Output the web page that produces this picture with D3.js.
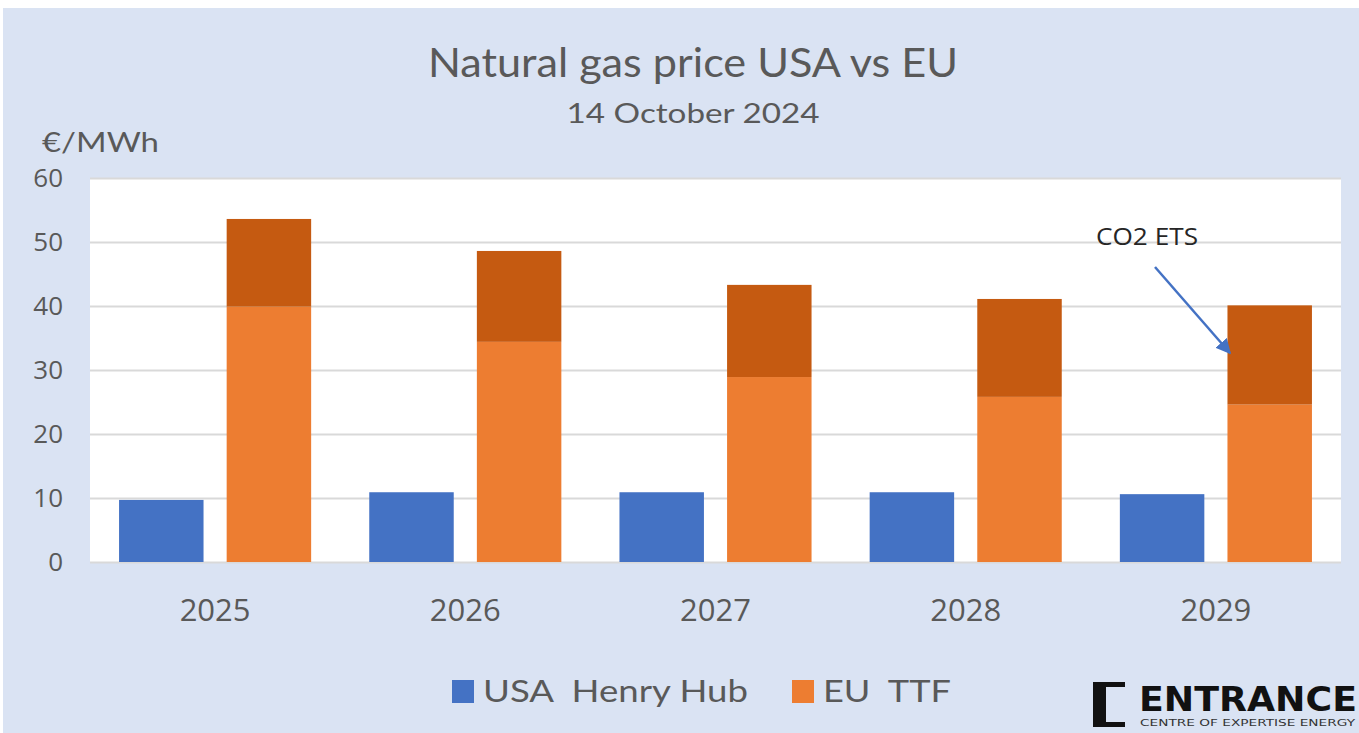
<!DOCTYPE html>
<html>
<head>
<meta charset="utf-8">
<script src="https://cdn.jsdelivr.net/npm/d3@7"></script>
<style>
  body { margin: 0; background: #fff; }
  svg { display: block; }
</style>
</head>
<body>
<script>
// chart values
let years = ["2025", "2026", "2027", "2028", "2029"];
let henryHub = [9.7, 10.9, 10.9, 10.9, 10.6];
let ttf = [39.9, 34.4, 28.9, 25.8, 24.6];
let co2Ets = [13.7, 14.2, 14.4, 15.3, 15.5];
let yTicks = [0, 10, 20, 30, 40, 50, 60];

let w = 1359;
let h = 733;
let plot = { left: 90, right: 1341, top: 178, bottom: 562 };

let blue = "#4472c4";
let orange = "#ed7d31";
let darkOrange = "#c55a11";
let grey = "#595959";

let svg = d3.select("body")
    .append("svg")
    .attr("width", w)
    .attr("height", h);

// background panel
svg.append("rect")
    .attr("x", 3).attr("y", 8)
    .attr("width", w - 3).attr("height", h - 8)
    .attr("fill", "#dae3f3");

svg.append("rect")
    .attr("x", plot.left).attr("y", plot.top)
    .attr("width", plot.right - plot.left)
    .attr("height", plot.bottom - plot.top)
    .attr("fill", "#fff");

let xScale = d3.scaleBand()
    .domain(years)
    .range([plot.left, plot.right]);

let inner = d3.scaleBand()
    .domain(["usa", "eu"])
    .range([0, xScale.bandwidth()])
    .paddingInner(0.215)
    .paddingOuter(0.27);

let yScale = d3.scaleLinear()
    .domain([0, 60])
    .range([plot.bottom, plot.top]);

// gridlines + y labels
let yAxis = d3.axisLeft(yScale)
    .tickValues(yTicks)
    .tickSize(-(plot.right - plot.left))
    .tickPadding(27);

let gy = svg.append("g")
    .attr("transform", "translate(" + plot.left + ",0)")
    .call(yAxis);
gy.select(".domain").remove();
gy.selectAll(".tick line").attr("stroke", "#d9d9d9").attr("stroke-width", 2);
gy.selectAll(".tick text")
    .attr("fill", grey)
    .attr("font-family", "Open Sans, sans-serif")
    .attr("font-size", "26px");

let rows = years.map(function(y, i) {
    return { year: y, usa: henryHub[i], ttf: ttf[i], co2: co2Ets[i] };
});

let bw = inner.bandwidth();

svg.selectAll("rect.usa")
    .data(rows)
    .enter()
    .append("rect")
    .attr("class", "usa")
    .attr("x", function(d) { return xScale(d.year) + inner("usa"); })
    .attr("y", function(d) { return yScale(d.usa); })
    .attr("width", bw)
    .attr("height", function(d) { return yScale(0) - yScale(d.usa); })
    .attr("fill", blue);

svg.selectAll("rect.ttf")
    .data(rows)
    .enter()
    .append("rect")
    .attr("class", "ttf")
    .attr("x", function(d) { return xScale(d.year) + inner("eu"); })
    .attr("y", function(d) { return yScale(d.ttf); })
    .attr("width", bw)
    .attr("height", function(d) { return yScale(0) - yScale(d.ttf); })
    .attr("fill", orange);

svg.selectAll("rect.co2")
    .data(rows)
    .enter()
    .append("rect")
    .attr("class", "co2")
    .attr("x", function(d) { return xScale(d.year) + inner("eu"); })
    .attr("y", function(d) { return yScale(d.ttf + d.co2); })
    .attr("width", bw)
    .attr("height", function(d) { return yScale(d.ttf) - yScale(d.ttf + d.co2); })
    .attr("fill", darkOrange);

// x labels
let xAxis = d3.axisBottom(xScale).tickSize(0).tickPadding(37);
let gx = svg.append("g")
    .attr("transform", "translate(0," + plot.bottom + ")")
    .call(xAxis);
gx.select(".domain").remove();
gx.selectAll(".tick text")
    .attr("fill", grey)
    .attr("font-family", "Open Sans, sans-serif")
    .attr("font-size", "31px");

// titles
svg.append("text")
    .attr("x", 693).attr("y", 77)
    .attr("text-anchor", "middle")
    .attr("font-family", "Lato, sans-serif")
    .attr("font-size", "40px")
    .attr("fill", grey)
    .attr("textLength", 530)
    .attr("lengthAdjust", "spacingAndGlyphs")
    .text("Natural gas price USA vs EU");

svg.append("text")
    .attr("x", 693).attr("y", 123)
    .attr("text-anchor", "middle")
    .attr("font-family", "Lato, sans-serif")
    .attr("font-size", "27px")
    .attr("fill", grey)
    .attr("textLength", 253)
    .attr("lengthAdjust", "spacingAndGlyphs")
    .text("14 October 2024");

svg.append("text")
    .attr("x", 42).attr("y", 152)
    .attr("font-family", "Lato, sans-serif")
    .attr("font-size", "27px")
    .attr("fill", grey)
    .attr("textLength", 117)
    .attr("lengthAdjust", "spacingAndGlyphs")
    .text("€/MWh");

// CO2 ETS annotation
let defs = svg.append("defs");
defs.append("marker")
    .attr("id", "arrow")
    .attr("viewBox", "0 0 10 10")
    .attr("refX", 9).attr("refY", 5)
    .attr("markerWidth", 6).attr("markerHeight", 6)
    .attr("orient", "auto")
    .append("path")
    .attr("d", "M0,0 L10,5 L0,10 z")
    .attr("fill", blue);

svg.append("text")
    .attr("x", 1096).attr("y", 245)
    .attr("font-family", "Open Sans, sans-serif")
    .attr("font-size", "24px")
    .attr("fill", "#262626")
    .attr("textLength", 102)
    .attr("lengthAdjust", "spacingAndGlyphs")
    .text("CO2 ETS");

svg.append("line")
    .attr("x1", 1155).attr("y1", 267)
    .attr("x2", 1230).attr("y2", 353)
    .attr("stroke", blue)
    .attr("stroke-width", 2.5)
    .attr("marker-end", "url(#arrow)");

// legend
let legendItems = [
    { label: "USA  Henry Hub", color: blue, x: 452, len: 265 },
    { label: "EU  TTF", color: orange, x: 792, len: 128 }
];
let lg = svg.selectAll("g.legend")
    .data(legendItems)
    .enter()
    .append("g")
    .attr("class", "legend")
    .attr("transform", function(d) { return "translate(" + d.x + ",0)"; });
lg.append("rect")
    .attr("x", 0).attr("y", 680)
    .attr("width", 22).attr("height", 23)
    .attr("fill", function(d) { return d.color; });
lg.append("text")
    .attr("x", 31).attr("y", 702)
    .attr("font-family", "Lato, sans-serif")
    .attr("font-size", "31px")
    .attr("fill", grey)
    .attr("textLength", function(d) { return d.len; })
    .attr("lengthAdjust", "spacingAndGlyphs")
    .style("white-space", "pre")
    .text(function(d) { return d.label; });

// logo
let logo = svg.append("g");
logo.append("path")
    .attr("d", "M1093,682 L1125,682 L1125,687 L1106,687 L1106,722 L1125,722 L1125,727 L1093,727 Z")
    .attr("fill", "#111");
logo.append("text")
    .attr("x", 1139).attr("y", 711)
    .attr("font-family", "DejaVu Sans, sans-serif")
    .attr("font-weight", "bold")
    .attr("font-size", "34px")
    .attr("fill", "#111")
    .attr("textLength", 218)
    .attr("lengthAdjust", "spacingAndGlyphs")
    .text("ENTRANCE");
logo.append("text")
    .attr("x", 1140).attr("y", 726)
    .attr("font-family", "DejaVu Sans, sans-serif")
    .attr("font-size", "9px")
    .attr("fill", "#333")
    .attr("textLength", 215)
    .attr("lengthAdjust", "spacingAndGlyphs")
    .text("CENTRE OF EXPERTISE ENERGY");
</script>
</body>
</html>
